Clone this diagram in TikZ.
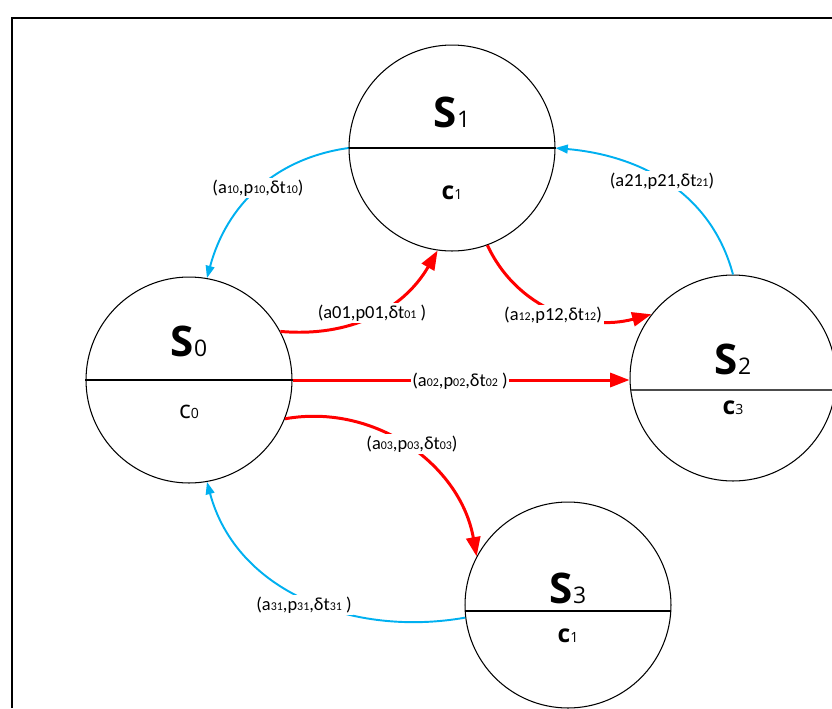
\documentclass[tikz,border=0pt]{standalone}
\usepackage{fontspec}
\setmainfont{Carlito}
\newfontfamily\stfont{Open Sans}
\usetikzlibrary{arrows.meta, calc}

\definecolor{linkblue}{RGB}{0,176,240}

% small digits sitting on the baseline
\newcommand{\lowd}[1]{{\fontsize{6.8}{7}\selectfont #1}}
\newcommand{\stname}[1]{{\stfont\bfseries\fontsize{24}{25}\selectfont S}{\stfont\fontsize{13}{14}\selectfont #1}}
\newcommand{\cname}[1]{{\stfont\bfseries\fontsize{14}{15}\selectfont c}{\stfont\fontsize{8}{9}\selectfont #1}}

\tikzset{%
  state/.style={circle, draw, line width=0.6pt, minimum size=4.12cm, inner sep=0pt},
  redarr/.style={draw=red, line width=1.7pt, -{Triangle[length=11pt, width=8pt, fill=red]}},
  bluearr/.style={draw=linkblue, line width=1.1pt, -{Triangle[length=7pt, width=5pt, fill=linkblue]}},
  lab/.style={fill=white, inner sep=1pt, font=\fontsize{10.5}{12}\selectfont},
}

\begin{document}
\begin{tikzpicture}[x=0.02cm, y=0.02cm]
    \useasboundingbox (0,0) rectangle (832,-708);

    %frame
    \draw[line width=1.2pt] (12,-708) -- (12,-18) -- (832,-18);

    %states
    \node[state] (s0) at (189,-380) {};
    \node[state] (s1) at (452,-148) {};
    \node[state] (s2) at (733,-378) {};
    \node[state] (s3) at (568,-605) {};

    \draw[line width=0.6pt] (s0.west) -- (s0.east);
    \draw[line width=0.6pt] (s1.west) -- (s1.east);
    \draw[line width=0.9pt, black!70] ($(s2.center)+(-102.3,-12)$) -- ($(s2.center)+(102.3,-12)$);
    \draw[line width=0.6pt] ($(s3.center)+(-102.8,-6)$) -- ($(s3.center)+(102.8,-6)$);

    \node (s0n) at (189,-341) {\stname{0}};
    \node (s0c) at (189,-412) {{\stfont\fontsize{14}{15}\selectfont c}{\stfont\fontsize{8}{9}\selectfont 0}};
    \node (s1n) at (452,-112) {\stname{1}};
    \node (s1c) at (452,-193) {\cname{1}};
    \node (s2n) at (733,-359) {\stname{2}};
    \node (s2c) at (733,-408) {\cname{3}};
    \node (s3n) at (568,-588) {\stname{3}};
    \node (s3c) at (568,-636) {\cname{1}};

    %forward transitions
    \draw[redarr] (s0.28) to[out=-5, in=240] (s1.262);
    \draw[redarr] (s1.290) to[out=-65, in=195] (s2.142);
    \draw[redarr] (s0.east) -- (s0.east -| s2.west);
    \draw[redarr] (s0.-22) to[out=10, in=100] (s3.152);

    %back transitions
    \draw[bluearr] (s1.west) to[out=188, in=75] (s0.80);
    \draw[bluearr] (s2.north) to[out=105, in=-5] (s1.east);
    \draw[bluearr] (s3.187) to[out=190, in=-75] (s0.-80);

    %labels
    \node[lab] (l10) at (258,-188) {(a\lowd{10},p\lowd{10},δt\lowd{10})};
    \node[lab] (l21) at (662,-181) {(a21,p21,δt\lowd{21})};
    \node[lab] (l01) at (372,-313) {(a01,p01,δt\lowd{01} )};
    \node[lab] (l12) at (553,-315) {(a\lowd{12},p12,δt\lowd{12})};
    \node[lab] (l02) at (460,-381) {(a\lowd{02},p\lowd{02},δt\lowd{02} )};
    \node[lab] (l03) at (412,-444) {(a\lowd{03},p\lowd{03},δt\lowd{03})};
    \node[lab] (l31) at (304,-605) {(a\lowd{31},p\lowd{31},δt\lowd{31} )};
\end{tikzpicture}
\end{document}
